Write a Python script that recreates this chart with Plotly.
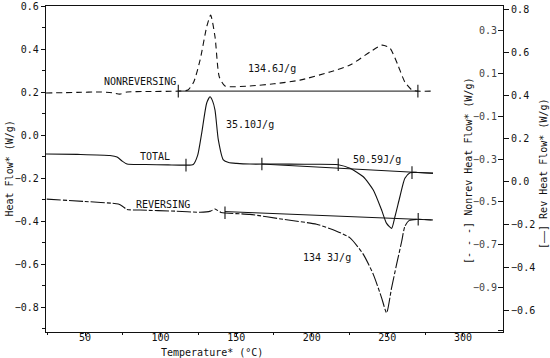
import numpy as np
import plotly.graph_objects as go

# ---------------- data ----------------
# Total heat flow (left axis, W/g)
total_T = [24.2, 45, 66.5, 71.2, 74.5, 77.8, 90, 105, 116.8, 121.6, 124.5, 127.2, 130.5, 132.7,
           134.3, 136.0, 138.2, 141.5, 145, 150.3, 159.1, 175, 195, 217.5, 225.3, 234.1, 240.7,
           246.2, 249.5, 252.8, 255.0, 258.3, 261.6, 265.0, 270, 280.2]
total_v = [-0.088, -0.090, -0.095, -0.102, -0.121, -0.135, -0.137, -0.139, -0.140, -0.137, -0.095, 0.009,
           0.149, 0.178, 0.160, 0.116, -0.023, -0.116, -0.128, -0.132, -0.135, -0.135, -0.136, -0.138,
           -0.155, -0.194, -0.256, -0.349, -0.411, -0.434, -0.380, -0.287, -0.201, -0.175, -0.174, -0.177]

# Non-reversing heat flow (inner right axis, W/g)
nonrev_T = [24.2, 45, 59.9, 68, 73.1, 77.8, 90, 111.7, 118.1, 122, 126.1, 130.5, 133.1, 136.0, 138.8,
            142.6, 159.1, 175, 192.2, 212.0, 225.3, 238.5, 246.4, 251.7, 257.0, 261.6, 266.3, 270.2, 280.2]
nonrev_v = [0.007, 0.010, 0.012, 0.008, 0.002, 0.012, 0.014, 0.016, 0.021, 0.060, 0.160, 0.315, 0.370,
            0.269, 0.083, 0.040, 0.040, 0.050, 0.067, 0.105, 0.137, 0.198, 0.230, 0.216, 0.137, 0.058,
            0.021, 0.016, 0.016]

# Reversing heat flow (outer right axis, W/g)
rev_T = [24.7, 50, 72.0, 75, 77.6, 86.4, 110, 126.1, 133, 136, 140, 159.1, 181.2, 203.2, 216.4, 225.3,
         234.1, 240.7, 246.2, 249.5, 252.8, 256.1, 259.5, 261.6, 264.5, 270.4, 279.3]
rev_v = [-0.084, -0.095, -0.107, -0.118, -0.132, -0.135, -0.140, -0.145, -0.140, -0.130, -0.146, -0.155,
         -0.178, -0.201, -0.233, -0.264, -0.341, -0.434, -0.543, -0.613, -0.497, -0.388, -0.280, -0.210,
         -0.183, -0.178, -0.181]

# integration limits (temperatures) marked with short ticks
nonrev_limits = [111.7, 270.2]
total_limits = [116.8, 167.0, 217.5, 266.3]
rev_limits = [142.6, 270.4]

# baselines (start/end temperature and value)
nonrev_base_T = [111.7, 270.2]
nonrev_base_v = [0.016, 0.016]
total_base_T = [167.0, 280.2]
total_base_v = [-0.135, -0.178]
rev_base_T = [142.6, 280.2]
rev_base_v = [-0.142, -0.181]

# peak annotations (T, left-axis value, text)
labels = [
    (86.4, 0.248, "NONREVERSING"),
    (96.3, -0.102, "TOTAL"),
    (101.8, -0.321, "REVERSING"),
    (159.1, 0.047, "35.10J/g"),
    (174.0, 0.310, "134.6J/g"),
    (243.4, -0.113, "50.59J/g"),
    (210.4, -0.571, "134 3J/g"),
]

x_range = [24.2, 326.5]
left_range = [-0.916, 0.6]
nonrev_range = [-1.105, 0.412]
rev_range = [-0.702, 0.814]

FONT = "DejaVu Sans Mono"
BLACK = "#111111"

fig = go.Figure()

def curve(x, y, axis, dash, width=1.1):
    fig.add_trace(go.Scatter(x=x, y=y, yaxis=axis, mode="lines",
                             line=dict(color=BLACK, width=width, dash=dash, shape="spline", smoothing=0.6),
                             showlegend=False, hoverinfo="skip"))

def straight(x, y, axis):
    fig.add_trace(go.Scatter(x=x, y=y, yaxis=axis, mode="lines",
                             line=dict(color=BLACK, width=1.0), showlegend=False, hoverinfo="skip"))

def limit_ticks(limits, cx, cy, axis):
    ys = np.interp(limits, cx, cy)
    fig.add_trace(go.Scatter(x=limits, y=ys, yaxis=axis, mode="markers",
                             marker=dict(symbol="line-ns-open", size=9, color=BLACK,
                                         line=dict(color=BLACK, width=1.1)),
                             showlegend=False, hoverinfo="skip"))

# baselines
straight(nonrev_base_T, nonrev_base_v, "y2")
straight(total_base_T, total_base_v, "y")
straight(rev_base_T, rev_base_v, "y3")

# curves
curve(nonrev_T, nonrev_v, "y2", "6px,4px")
curve(total_T, total_v, "y", "solid")
curve(rev_T, rev_v, "y3", "14px,2px,4px,2px")

limit_ticks(nonrev_limits, nonrev_T, nonrev_v, "y2")
limit_ticks(total_limits, total_T, total_v, "y")
limit_ticks(rev_limits, rev_T, rev_v, "y3")

for (t, v, s) in labels:
    fig.add_annotation(x=t, y=v, xref="x", yref="y", text=s, showarrow=False,
                       xanchor="center", yanchor="middle",
                       font=dict(family=FONT, size=10, color=BLACK))

# axis titles as annotations (pixel positions converted to paper fractions)
def title(px, py, text, angle):
    fig.add_annotation(x=(px - 46) / 457, y=(332 - py) / 326, xref="paper", yref="paper",
                       text=text, textangle=angle, showarrow=False,
                       xanchor="center", yanchor="middle",
                       font=dict(family=FONT, size=10, color=BLACK))

title(8.5, 169, "Heat Flow* (W/g)", -90)
title(468, 171, "[- - -] Nonrev Heat Flow* (W/g)", -90)
title(543, 174, "[\u2014\u2014] Rev Heat Flow* (W/g)", -90)
title(212, 352, "Temperature* (\u00b0C)", 0)

fig.update_layout(
    width=550, height=358,
    margin=dict(l=46, r=47, t=6, b=26, autoexpand=False),
    paper_bgcolor="white", plot_bgcolor="white",
    font=dict(family=FONT, size=10, color=BLACK),
    xaxis=dict(range=x_range, tickmode="linear", tick0=50, dtick=50, ticks="outside", ticklen=3,
               tickcolor=BLACK, showline=True, linecolor=BLACK, linewidth=1.2, mirror=True,
               showgrid=False, zeroline=False, automargin=False, ticklabelstandoff=-7,
               minor=dict(tickmode="linear", tick0=25, dtick=25, ticks="outside", ticklen=2, tickcolor=BLACK),
               tickfont=dict(family=FONT, size=10)),
    yaxis=dict(range=left_range, tickmode="linear", tick0=0.6, dtick=0.2, tickformat=".1f",
               ticks="outside", ticklen=4, tickcolor=BLACK, showline=True, linecolor=BLACK, linewidth=1.2,
               showgrid=False, zeroline=False, automargin=False,
               minor=dict(tickmode="linear", tick0=0.6, dtick=0.1, ticks="outside", ticklen=3, tickcolor=BLACK),
               tickfont=dict(family=FONT, size=10)),
    yaxis2=dict(range=nonrev_range, overlaying="y", side="right", anchor="x", tickmode="linear",
                tick0=0.3, dtick=0.2, tickformat=".1f", ticks="inside", ticklen=5, tickcolor=BLACK,
                ticklabelposition="inside", showline=False, showgrid=False, zeroline=False,
                automargin=False, tickfont=dict(family=FONT, size=10)),
    yaxis3=dict(range=rev_range, overlaying="y", side="right", anchor="x", tickmode="linear",
                tick0=0.8, dtick=0.2, tickformat=".1f", ticks="outside", ticklen=5, tickcolor=BLACK,
                showline=True, linecolor=BLACK, linewidth=1.2, showgrid=False, zeroline=False,
                automargin=False, tickfont=dict(family=FONT, size=10)),
)

fig.write_html("out.html", config={"displayModeBar": False},
               post_script="document.body.style.margin='0';document.body.style.overflow='hidden';")
